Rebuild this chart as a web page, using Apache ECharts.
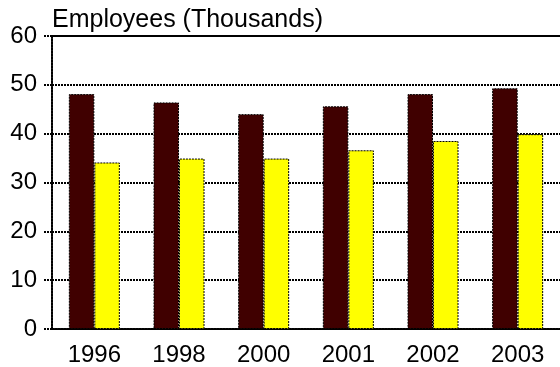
<!DOCTYPE html>
<html>
<head>
<meta charset="utf-8">
<script src="https://cdn.jsdelivr.net/npm/echarts@6/dist/echarts.min.js"></script>
<style>
  html, body { margin: 0; padding: 0; background: #fff; }
  #chart { width: 560px; height: 367px; }
</style>
</head>
<body>
<div id="chart"></div>
<script>
// Employees per year, two groups (thousands)
const years = ['1996', '1998', '2000', '2001', '2002', '2003'];
const seriesA = [48.1, 46.4, 44.0, 45.6, 48.1, 49.3];
const seriesB = [34.1, 34.9, 34.9, 36.6, 38.5, 39.9];
const yTicks = { min: 0, max: 60, interval: 10 };

const FONT = 'Liberation Sans, Arial, sans-serif';
const dotted = { color: '#000', width: 2, type: [2, 1] };

const chart = echarts.init(document.getElementById('chart'), null, { renderer: 'canvas' });

chart.setOption({
  animation: false,
  backgroundColor: '#fff',
  title: {
    text: 'Employees (Thousands)',
    left: 52,
    top: 8,
    padding: 0,
    textStyle: { fontFamily: FONT, fontSize: 25, fontWeight: 'normal', color: '#000' }
  },
  grid: { left: 52, right: -5, top: 36, bottom: 37 },
  xAxis: [
    {
      type: 'category',
      data: years,
      position: 'bottom',
      axisLine: { lineStyle: { color: '#000', width: 2, type: [2, 1] } },
      axisTick: { show: false },
      axisLabel: { color: '#000', fontFamily: FONT, fontSize: 24, margin: 14 }
    },
    {
      type: 'category',
      data: years,
      position: 'top',
      axisLine: { lineStyle: { color: '#000', width: 2 } },
      axisTick: { show: false },
      axisLabel: { show: false }
    }
  ],
  yAxis: {
    type: 'value',
    min: yTicks.min,
    max: yTicks.max,
    interval: yTicks.interval,
    axisLine: { show: true, lineStyle: dotted },
    axisTick: { show: true, length: 9, lineStyle: dotted },
    axisLabel: { color: '#000', fontFamily: FONT, fontSize: 24, margin: 15 },
    splitLine: { show: true, lineStyle: dotted }
  },
  series: [
    {
      type: 'bar',
      data: seriesA,
      barWidth: 25.5,
      barGap: '0%',
      itemStyle: { color: '#400000', borderColor: '#000', borderWidth: 1, borderType: [2, 1] }
    },
    {
      type: 'bar',
      data: seriesB,
      barWidth: 25.5,
      barGap: '0%',
      itemStyle: { color: '#ffff00', borderColor: '#000', borderWidth: 1, borderType: [2, 1] }
    }
  ]
});
</script>
</body>
</html>
